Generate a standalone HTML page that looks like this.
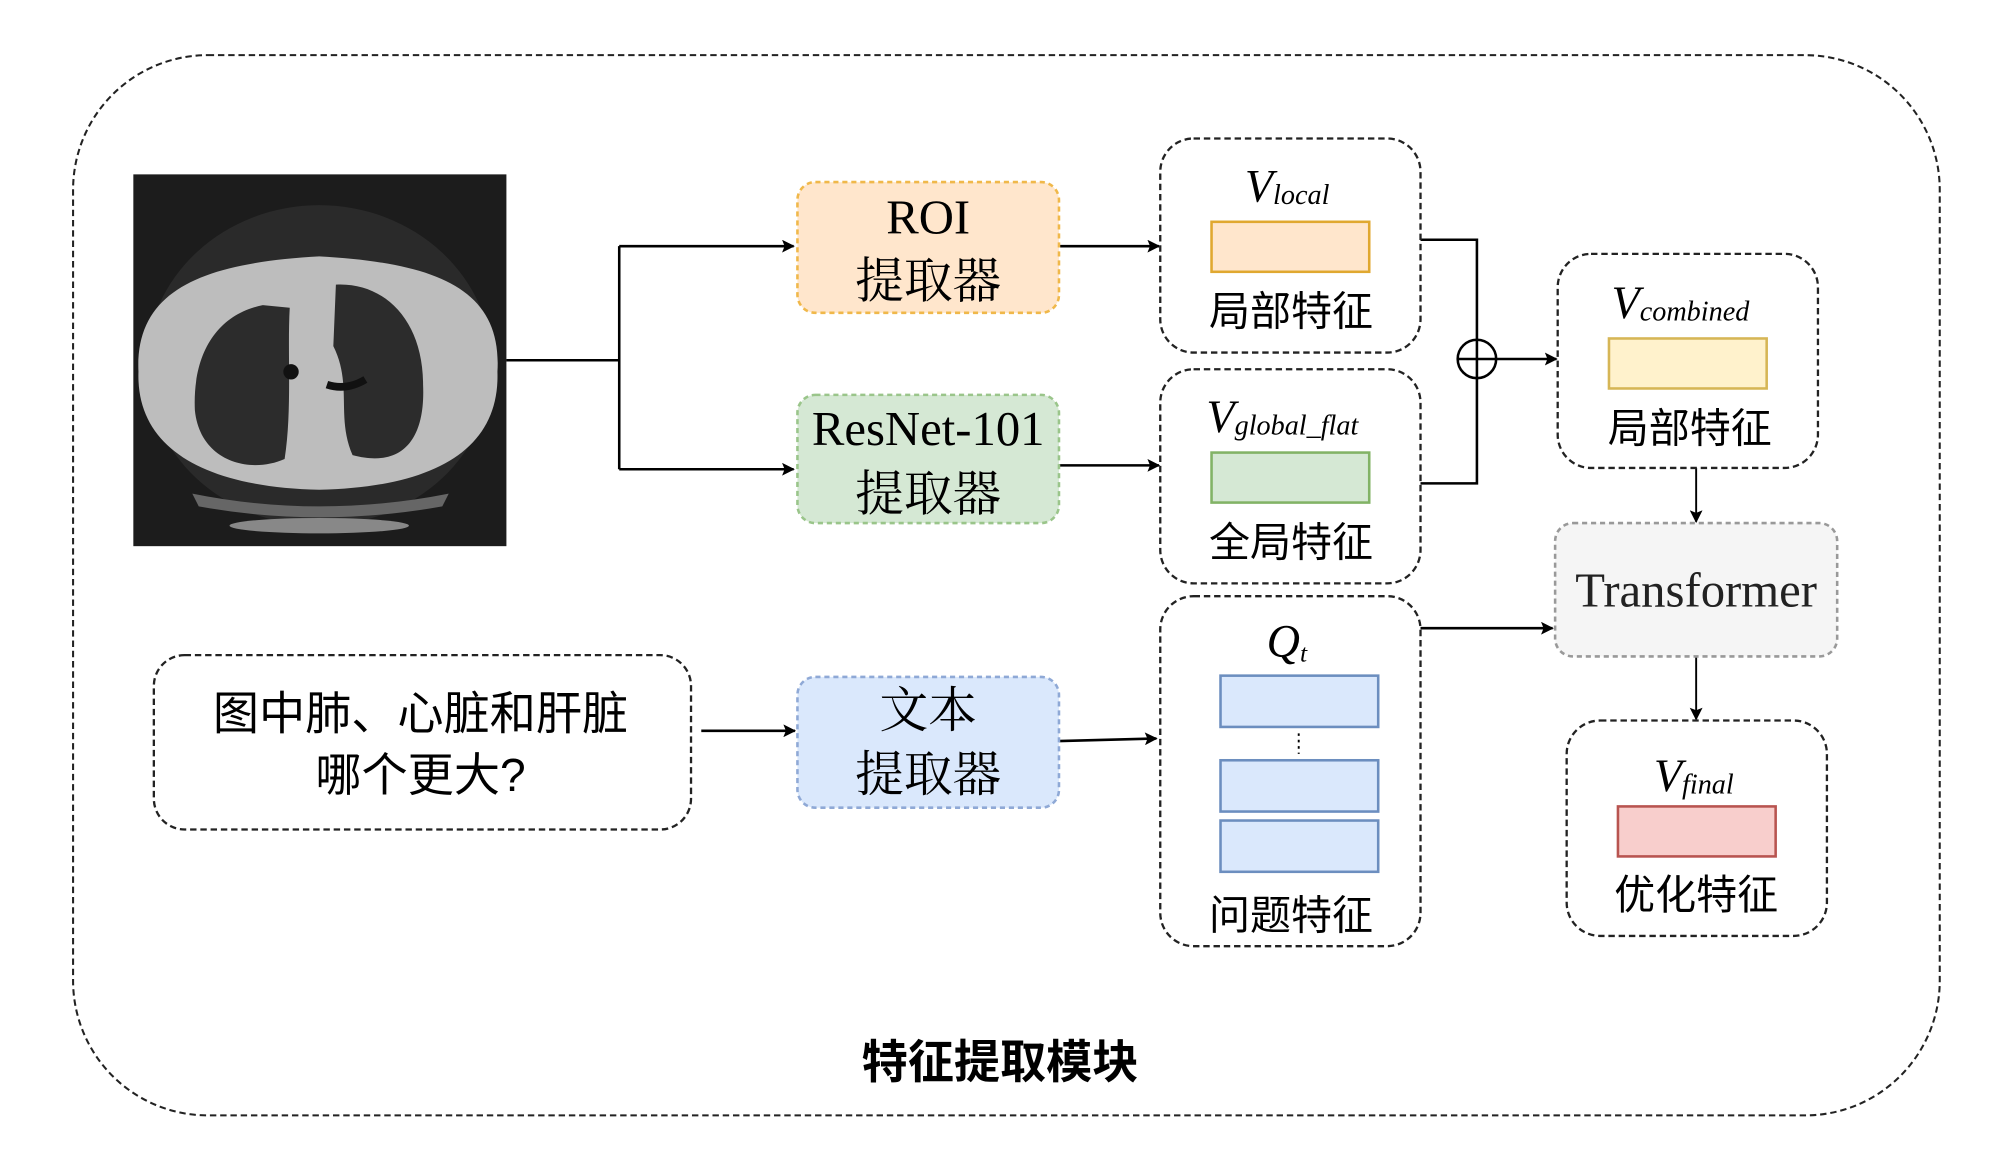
<!DOCTYPE html>
<html><head><meta charset="utf-8"><style>html,body{margin:0;padding:0;background:#fff}svg{display:block}</style></head>
<body>
<svg width="2000" height="1159" viewBox="0 0 1560 904" xmlns="http://www.w3.org/2000/svg" font-family="'Liberation Serif','Noto Serif CJK SC',serif">
<defs><marker id="a" markerWidth="10" markerHeight="10" refX="9" refY="5" orient="auto" markerUnits="userSpaceOnUse"><path d="M0,0 L10,5 L0,10 L2,5 Z" fill="#000"/></marker></defs>
<rect x="57" y="43" width="1456" height="827" rx="105" fill="none" stroke="#222" stroke-width="1.6" stroke-dasharray="5,3"/>
<!-- CT -->
<rect x="104" y="136" width="291" height="290" fill="#1c1c1c"/>
<ellipse cx="249" cy="285" rx="135" ry="125" fill="#2a2a2a"/>
<path d="M108,290 C105,225 160,205 249,200 C340,205 392,225 388,290 C390,350 340,380 249,382 C160,380 106,350 108,290Z" fill="#bdbdbd"/>
<path d="M205,238 C170,245 150,275 152,320 C156,360 195,370 222,358 C228,320 224,275 226,240Z" fill="#2c2c2c"/>
<path d="M262,222 C300,220 330,250 330,300 C332,345 312,365 275,355 C262,325 275,300 260,270Z" fill="#2c2c2c"/>
<circle cx="227" cy="290" r="6" fill="#111"/><path d="M255,300 Q270,305 285,296" stroke="#111" stroke-width="6" fill="none"/>
<path d="M150,385 Q249,405 350,385 L345,395 Q249,412 155,395Z" fill="#666"/>
<ellipse cx="249" cy="410" rx="70" ry="6" fill="#888"/>
<!-- connectors -->
<g stroke="#000" stroke-width="2" fill="none">
<path d="M395,281 H483 M483,192 V366"/>
<path d="M483,192 H619" marker-end="url(#a)"/><path d="M483,366 H619" marker-end="url(#a)"/>
<path d="M826,192 H904" marker-end="url(#a)"/><path d="M826,363 H904" marker-end="url(#a)"/>
<path d="M1108,187 H1152 V377 H1108"/>
<path d="M1167,280 H1214" marker-end="url(#a)"/>
<path d="M1323,365 V407" stroke-width="1.5" marker-end="url(#a)"/>
<path d="M1323,512 V561" stroke-width="1.5" marker-end="url(#a)"/>
<path d="M1108,490 H1211" marker-end="url(#a)"/>
<path d="M547,570 H620" marker-end="url(#a)"/>
<path d="M826,578 L902,576" marker-end="url(#a)"/>
</g>
<circle cx="1152" cy="280" r="15" fill="#fff" stroke="#000" stroke-width="2"/>
<path d="M1137,280 H1167 M1152,265 V295" stroke="#000" stroke-width="2"/>
<!-- extractors -->
<g stroke-width="2" stroke-dasharray="4,3">
<rect x="622" y="142" width="204" height="102" rx="14" fill="#ffe6cc" stroke="#f0b84a"/>
<rect x="622" y="308" width="204" height="100" rx="14" fill="#d5e8d4" stroke="#9ac58a"/>
<rect x="622" y="528" width="204" height="102" rx="14" fill="#dae8fc" stroke="#8fa9d6"/>
<rect x="1213" y="408" width="220" height="104" rx="14" fill="#f5f5f5" stroke="#999"/>
</g>
<g fill="none" stroke="#222" stroke-width="1.8" stroke-dasharray="5,3">
<rect x="905" y="108" width="203" height="167" rx="26"/>
<rect x="905" y="288" width="203" height="167" rx="26"/>
<rect x="905" y="465" width="203" height="273" rx="26"/>
<rect x="1215" y="198" width="203" height="167" rx="26"/>
<rect x="1222" y="562" width="203" height="168" rx="26"/>
<rect x="120" y="511" width="419" height="136" rx="24"/>
</g>
<g stroke-width="2">
<rect x="945" y="173" width="123" height="39" fill="#ffe6cc" stroke="#e0a830"/>
<rect x="945" y="353" width="123" height="39" fill="#d5e8d4" stroke="#82b366"/>
<rect x="1255" y="264" width="123" height="39" fill="#fff2cc" stroke="#d6b656"/>
<rect x="952" y="527" width="123" height="40" fill="#dae8fc" stroke="#6c8ebf"/>
<rect x="952" y="593" width="123" height="40" fill="#dae8fc" stroke="#6c8ebf"/>
<rect x="952" y="640" width="123" height="40" fill="#dae8fc" stroke="#6c8ebf"/>
<rect x="1262" y="629" width="123" height="39" fill="#f8cecc" stroke="#b85450"/>
</g>
<path d="M1013,572 V588" stroke="#000" stroke-width="1.5" stroke-dasharray="2,3"/>
<g text-anchor="middle" fill="#000" font-size="38">
<text x="724" y="182">ROI</text><text x="724" y="232">提取器</text>
<text x="724" y="347">ResNet-101</text><text x="724" y="398">提取器</text>
<text x="724" y="567">文本</text><text x="724" y="617">提取器</text>
<text x="1323" y="473" fill="#222">Transformer</text>
</g>
<g text-anchor="middle" font-size="32" font-family="'Liberation Sans','Noto Sans CJK SC',sans-serif">
<text x="1007" y="254">局部特征</text><text x="1007" y="434">全局特征</text>
<text x="1318" y="345">局部特征</text><text x="1007" y="725">问题特征</text>
<text x="1323" y="709">优化特征</text>
</g>
<g font-size="36" font-family="'Liberation Sans','Noto Sans CJK SC',sans-serif" text-anchor="middle">
<text x="328" y="569">图中肺、心脏和肝脏</text><text x="328" y="617">哪个更大?</text>
<text x="780" y="841" font-weight="bold">特征提取模块</text>
</g>
<g font-style="italic" font-size="36">
<text x="971" y="157">V<tspan font-size="22" dy="2">local</tspan></text>
<text x="941" y="337">V<tspan font-size="22" dy="2">global_flat</tspan></text>
<text x="1257" y="248">V<tspan font-size="22" dy="2">combined</tspan></text>
<text x="988" y="512">Q<tspan font-size="20" dy="4">t</tspan></text>
<text x="1290" y="617">V<tspan font-size="22" dy="2">final</tspan></text>
</g>
</svg>
</body></html>
